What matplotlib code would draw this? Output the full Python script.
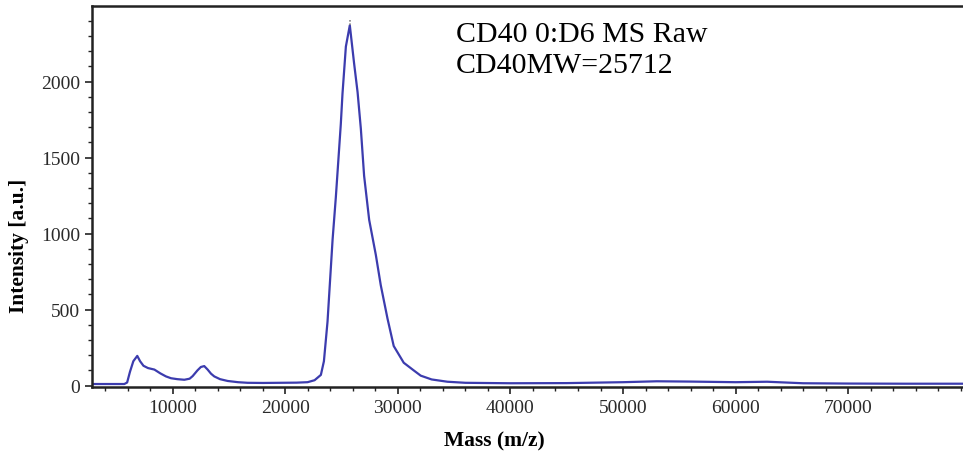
import matplotlib
matplotlib.use("Agg")
import matplotlib.pyplot as plt
from matplotlib.ticker import MultipleLocator
import numpy as np

mass = [2800, 4000, 5000, 5700, 5950, 6200, 6500, 6850, 7100, 7400, 7800, 8370, 8900,
        9400, 9850, 10400, 11030, 11500, 11770, 12200, 12500, 12800, 13100, 13400, 13690,
        14200, 14880, 15800, 16650, 18000, 19500, 21000, 21980, 22600, 23160, 23430, 23750,
        24200, 24490, 24930, 25080, 25380, 25730, 26110, 26420, 26710, 27000, 27450, 28040,
        28480, 29080, 29630, 30520, 31400, 32030, 33000, 34400, 36000, 40000, 45000, 50000,
        53000, 56000, 60000, 62800, 66000, 70000, 75000, 80200]
intensity = [10, 10, 10, 10, 20, 90, 160, 195, 160, 130, 115, 105, 80,
             60, 48, 42, 38, 45, 62, 100, 122, 128, 105, 78, 60,
             42, 30, 22, 18, 17, 18, 19, 22, 35, 70, 160, 420,
             960, 1240, 1720, 1920, 2230, 2370, 2120, 1930, 1690, 1380, 1090, 860,
             660, 440, 260, 150, 100, 65, 40, 25, 18, 15, 16, 22,
             28, 26, 22, 25, 15, 13, 12, 12]

x_ticks = [10000, 20000, 30000, 40000, 50000, 60000, 70000]
y_ticks = [0, 500, 1000, 1500, 2000]
annot_lines = ["CD40 0:D6 MS Raw", "CD40MW=25712"]
xlabel = "Mass (m/z)"
ylabel = "Intensity [a.u.]"

plt.rcParams['font.family'] = ['Liberation Serif', 'DejaVu Serif']

fig = plt.figure(figsize=(9.63, 4.56), dpi=100)
ax = fig.add_axes([0.0952, 0.149, 0.9048, 0.835])

ax.plot(mass, intensity, color='#3c3cae', lw=1.6)

imax = int(np.argmax(intensity))
ax.vlines(mass[imax], intensity[imax], intensity[imax] + 35, colors='#888888',
          linestyles=(0, (1, 1)), lw=1.2)

ax.set_xlim(2800, 80200)
ax.set_ylim(-10, 2495)

ax.set_xticks(x_ticks)
ax.set_xticklabels([str(v) for v in x_ticks])
ax.xaxis.set_minor_locator(MultipleLocator(2000))
ax.set_yticks(y_ticks)
ax.set_yticklabels([str(v) for v in y_ticks])
ax.yaxis.set_minor_locator(MultipleLocator(100))

ax.tick_params(axis='both', which='major', direction='out', length=5, width=1.2,
               labelsize=14, labelcolor='#2a2a2a', color='#222222')
ax.tick_params(axis='both', which='minor', direction='out', length=3, width=1.0,
               color='#222222')

for s in ['left', 'bottom', 'top']:
    ax.spines[s].set_linewidth(1.8)
    ax.spines[s].set_color('#222222')
ax.spines['right'].set_visible(False)

ax.set_xlabel(xlabel, fontsize=15.5, fontweight='bold')
ax.set_ylabel(ylabel, fontsize=15.5, fontweight='bold')
ax.xaxis.set_label_coords(0.462, -0.115)
ax.yaxis.set_label_coords(-0.072, 0.373)

fig.text(456 / 963, 1 - 41.7 / 456, annot_lines[0], fontsize=21.5, va='baseline', ha='left')
fig.text(456 / 963, 1 - 73.3 / 456, annot_lines[1], fontsize=21.5, va='baseline', ha='left')

fig.savefig("out.png", dpi=100)
